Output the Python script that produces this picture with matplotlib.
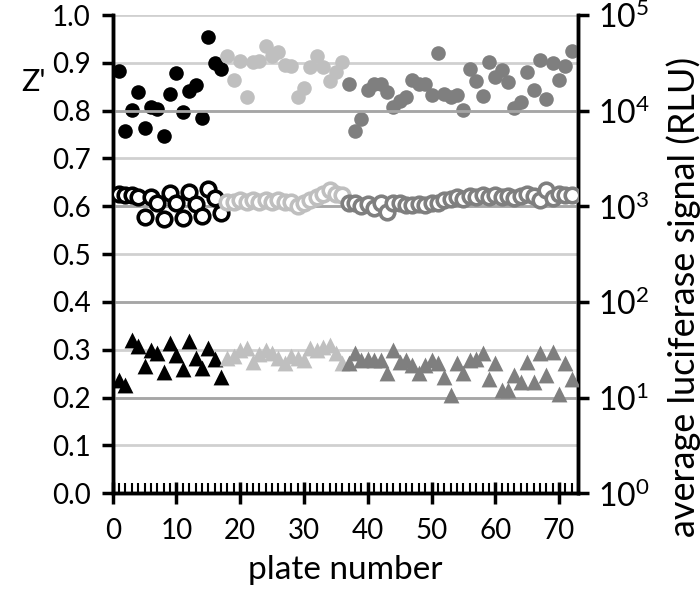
import numpy as np
import matplotlib
matplotlib.use("Agg")
import matplotlib.pyplot as plt
from matplotlib.ticker import MultipleLocator, FixedLocator, LogFormatterMathtext, NullLocator

plt.rcParams['font.family'] = ['Lato', 'DejaVu Sans']
plt.rcParams['mathtext.default'] = 'regular'

# plate groups
plates_a = list(range(1, 18))
plates_b = list(range(18, 37))
plates_c = list(range(37, 73))

# Z' per plate (left axis, filled circles)
z_a = [0.883, 0.758, 0.801, 0.840, 0.763, 0.808, 0.803, 0.748, 0.835, 0.878,
       0.798, 0.842, 0.854, 0.784, 0.955, 0.899, 0.888]
z_b = [0.915, 0.864, 0.904, 0.829, 0.901, 0.904, 0.935, 0.914, 0.922, 0.895,
       0.893, 0.829, 0.847, 0.892, 0.914, 0.892, 0.862, 0.881, 0.902]
z_c = [0.856, 0.757, 0.782, 0.843, 0.856, 0.856, 0.840, 0.807, 0.821, 0.828,
       0.865, 0.856, 0.856, 0.833, 0.920, 0.835, 0.828, 0.833, 0.801, 0.888,
       0.862, 0.831, 0.902, 0.870, 0.886, 0.860, 0.805, 0.819, 0.881, 0.843,
       0.906, 0.824, 0.899, 0.865, 0.894, 0.925]

# average signal, high (RLU, open circles)
hi_a = [1330, 1310, 1310, 1240, 765, 1240, 1090, 730, 1380, 1090,
        760, 1420, 1050, 790, 1500, 1230, 860]
hi_b = [1120, 1100, 1150, 1120, 1170, 1120, 1170, 1100, 1150, 1100,
        1120, 1000, 1070, 1170, 1260, 1350, 1480, 1350, 1320]
hi_c = [1070, 1070, 1000, 1050, 955, 1070, 870, 1070, 1070, 1020,
        1020, 1050, 1020, 1070, 1070, 1150, 1200, 1260, 1200, 1290,
        1260, 1320, 1260, 1320, 1260, 1290, 1230, 1290, 1350, 1290,
        1150, 1480, 1230, 1350, 1320, 1320]

# average signal, low (RLU, triangles)
lo_a = [15.2, 13.5, 39.8, 34.5, 21.5, 31.3, 28.9, 18.6, 37.1, 27.8,
        19.8, 38.9, 26.0, 20.5, 32.7, 25.2, 16.5]
lo_b = [25.7, 26.9, 31.6, 33.1, 23.4, 28.8, 31.6, 29.5, 25.7, 22.9,
        27.5, 25.7, 24.5, 33.1, 31.6, 33.9, 35.5, 29.5, 22.9]
lo_c = [22.8, 28.9, 24.6, 25.6, 24.6, 24.6, 17.9, 31.3, 23.6, 24.6,
        21.8, 17.9, 21.8, 24.6, 22.8, 16.5, 10.6, 22.8, 17.9, 24.6,
        25.6, 28.9, 15.8, 22.8, 11.9, 11.9, 17.1, 14.6, 23.6, 14.6,
        28.9, 17.1, 30.1, 11.0, 22.8, 15.8]

colors = ['#000000', '#bfbfbf', '#7f7f7f']

fig = plt.figure(figsize=(7, 6), dpi=100)
ax = fig.add_axes([0.161, 0.178, 0.665, 0.797])
ax2 = ax.twinx()

groups = [(plates_a, z_a, hi_a, lo_a), (plates_b, z_b, hi_b, lo_b), (plates_c, z_c, hi_c, lo_c)]
for (p, z, hi, lo), c in zip(groups, colors):
    ax.scatter(p, z, s=110, color=c, zorder=3, linewidths=0)
    ax2.scatter(p, hi, s=110, facecolors='white', edgecolors=c, linewidths=2.6, zorder=3)
    ax2.scatter(p, lo, s=130, marker='^', color=c, linewidths=0, zorder=3)

ax.set_xlim(0, 73)
ax.set_ylim(0, 1.0)
ax2.set_yscale('log')
ax2.set_ylim(1, 1e5)

ax.yaxis.set_major_locator(MultipleLocator(0.1))
ax.yaxis.set_major_formatter(plt.FormatStrFormatter('%.1f'))
ax.xaxis.set_major_locator(MultipleLocator(10))
ax.xaxis.set_minor_locator(MultipleLocator(1))
ax.grid(axis='y', color='#d0d0d0', linewidth=2, zorder=0)
ax.set_axisbelow(True)

ax2.yaxis.set_major_locator(FixedLocator([1, 10, 100, 1000, 1e4, 1e5]))
ax2.yaxis.set_minor_locator(NullLocator())
ax2.yaxis.set_major_formatter(LogFormatterMathtext())
for v in [10, 100, 1000, 1e4]:
    ax2.axhline(v, color='#a6a6a6', linewidth=2, zorder=0)

for a in (ax, ax2):
    a.spines['top'].set_visible(False)
    for s in ('left', 'right', 'bottom'):
        a.spines[s].set_linewidth(2.5)

ax.tick_params(axis='y', direction='out', length=8, width=2.5, labelsize=20, pad=8)
ax.tick_params(axis='x', which='major', direction='inout', length=16, width=2.5, labelsize=20, pad=10)
ax.tick_params(axis='x', which='minor', direction='in', length=7, width=1.5)
ax2.tick_params(axis='y', direction='out', length=8, width=2.5, labelsize=23, pad=6)

ax.set_xlabel('plate number', fontsize=24, labelpad=8)
ax.set_ylabel("Z'", fontsize=22, rotation=0)
ax.yaxis.set_label_coords(-0.17, 0.83)
ax2.set_ylabel('average luciferase signal (RLU)', fontsize=26)
ax2.yaxis.set_label_coords(1.19, 0.41)

fig.savefig('out.png', dpi=100)
